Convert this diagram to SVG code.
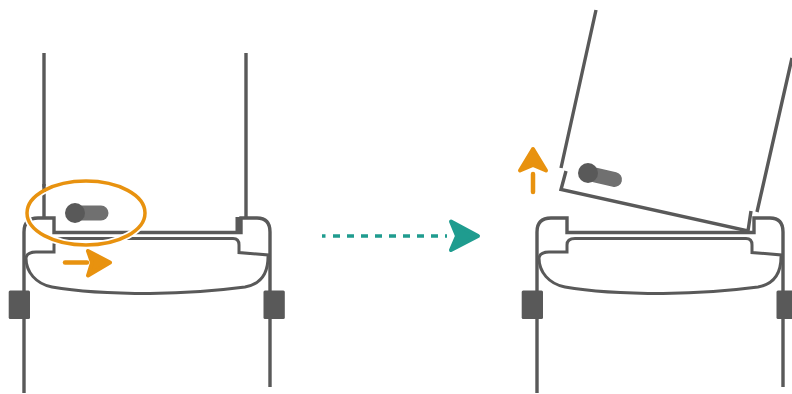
<svg xmlns="http://www.w3.org/2000/svg" width="792" height="394" viewBox="0 0 792 394">
<style>
.l{fill:none;stroke:#595959;stroke-width:3.400}
.i{fill:none;stroke:#595959;stroke-width:3}
.b{fill:#595959}
.o{fill:#E8920F;stroke:#E8920F;stroke-width:4;stroke-linejoin:round}
.os{fill:none;stroke:#E8920F;stroke-width:4.500;stroke-linecap:round}
.bar{fill:none;stroke:#707070;stroke-width:15;stroke-linecap:round}
</style>
<defs>
<g id="base">
<path class="l" d="M24 393V232Q24 218 38 218H54V232.500H241V218H257Q270 218 270 232V387"/>
<path class="i" d="M26 258Q27 252 36 252H54V245Q54 238.500 62 238.500H233Q239 238.500 239 245V252.500L268 255C268.500 272 262 284 245 287C215 291 180 293 150 293.500C110 293.500 80 292 52 287C36 284 26 272 26 258Z"/>
<rect class="b" x="8.700" y="290.500" width="21.300" height="28.500" rx="1.500"/>
<rect class="b" x="263.500" y="290.500" width="21.300" height="28.500" rx="1.500"/>
</g>
</defs>
<g id="left-base"><use href="#base"/></g>
<g id="left-panel">
<path class="l" d="M44 53V218M246 53V218"/>
<path class="b" d="M235.500 217H241.500V234H54V231H235.500Z"/>
<path class="bar" d="M82 213H101"/>
<circle class="b" cx="75" cy="213" r="10"/>
</g>
<g id="highlight">
<ellipse cx="86" cy="213" rx="59" ry="32" fill="none" stroke="#fff" stroke-width="7"/>
<path class="l" d="M44 184V192"/>
<ellipse cx="86" cy="213" rx="59" ry="32" fill="none" stroke="#E8920F" stroke-width="3.500"/>
</g>
<g id="slide-arrow">
<path class="os" d="M65 262.500H87"/>
<path class="o" d="M88 251L110 262.500L88 275.500L92 262.500Z"/>
</g>
<g id="connectors">
<path d="M322 236H325.500" fill="none" stroke="#1F9C8F" stroke-width="3.500"/>
<path d="M333 236H447" fill="none" stroke="#1F9C8F" stroke-width="3.500" stroke-dasharray="7 7"/>
<path d="M451 221.500L478 236L451 250L457 236Z" fill="#1F9C8F" stroke="#1F9C8F" stroke-width="4" stroke-linejoin="round"/>
</g>
<g id="right-base"><use href="#base" x="513"/></g>
<g id="right-panel">
<path class="l" d="M596 10L561 168M566 171L561 189.500L748 231L751 211M757 212L792 58"/>
<path class="bar" d="M595 175L614.500 179.500"/>
<circle class="b" cx="588" cy="173" r="10"/>
</g>
<g id="lift-arrow">
<path class="os" d="M533 174V192"/>
<path class="o" d="M533 149L520 170.500L533 165L546 170.500Z"/>
</g>
</svg>
